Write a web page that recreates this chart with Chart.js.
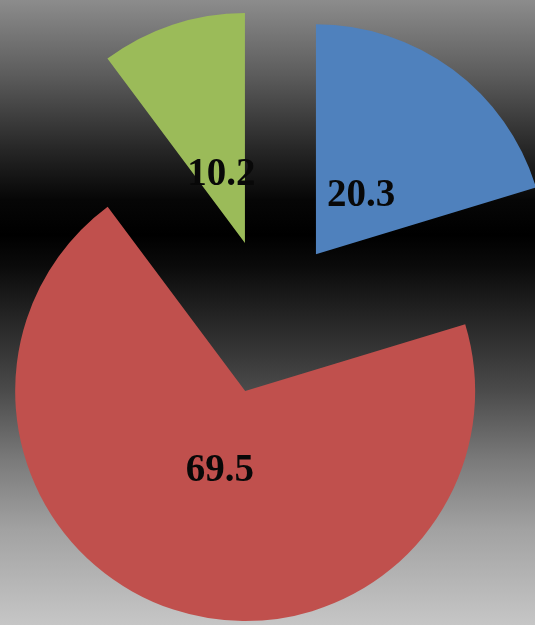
<!DOCTYPE html>
<html>
<head>
<meta charset="utf-8">
<script src="https://cdn.jsdelivr.net/npm/chart.js@4/dist/chart.umd.min.js"></script>
<style>
  html, body { margin: 0; padding: 0; }
  body {
    width: 535px; height: 625px; overflow: hidden;
    background: linear-gradient(to bottom,
      #8c8c8c 0px, #5c5c5c 75px, #262626 150px, #060606 200px, #000000 235px,
      #0a0a0a 265px, #262626 320px, #4a4a4a 390px, #7a7a7a 460px,
      #a2a2a2 530px, #c6c6c6 625px);
  }
  canvas { display: block; }
</style>
</head>
<body>
<canvas id="c" width="535" height="625"></canvas>
<script>
const categories = ['Category 1', 'Category 2', 'Category 3'];
const values = [20.3, 69.5, 10.2];
const valueLabels = ['20.3', '69.5', '10.2'];
const colors = ['#4f81bd', '#c0504d', '#9bbb59'];

const explodeDistance = 78;
const labelDistance = [76, 81, 75];

const explodePlugin = {
  id: 'explode',
  beforeDatasetDraw(chart, args) {
    const ctx = chart.ctx;
    args.meta.data.forEach((arc) => {
      const mid = (arc.startAngle + arc.endAngle) / 2;
      ctx.save();
      ctx.translate(Math.cos(mid) * explodeDistance, Math.sin(mid) * explodeDistance);
      arc.draw(ctx);
      ctx.restore();
    });
    return false;
  },
  afterDraw(chart) {
    const ctx = chart.ctx;
    const meta = chart.getDatasetMeta(0);
    ctx.save();
    ctx.font = 'bold 39px "Liberation Serif", "Times New Roman", serif';
    ctx.textAlign = 'center';
    ctx.textBaseline = 'alphabetic';
    ctx.fillStyle = '#080808';
    meta.data.forEach((arc, i) => {
      const mid = (arc.startAngle + arc.endAngle) / 2;
      const r = explodeDistance + labelDistance[i];
      const x = arc.x + Math.cos(mid) * r;
      const y = arc.y + Math.sin(mid) * r;
      ctx.fillText(valueLabels[i], x, y + 13);
    });
    ctx.restore();
  }
};

new Chart(document.getElementById('c'), {
  type: 'pie',
  data: {
    labels: categories,
    datasets: [{
      data: values,
      backgroundColor: colors,
      borderWidth: 0,
      radius: 230
    }]
  },
  options: {
    responsive: false,
    animation: false,
    events: [],
    layout: { padding: { left: 4, top: 9, right: 0, bottom: 0 } },
    plugins: {
      legend: { display: false },
      tooltip: { enabled: false }
    }
  },
  plugins: [explodePlugin]
});
</script>
</body>
</html>
